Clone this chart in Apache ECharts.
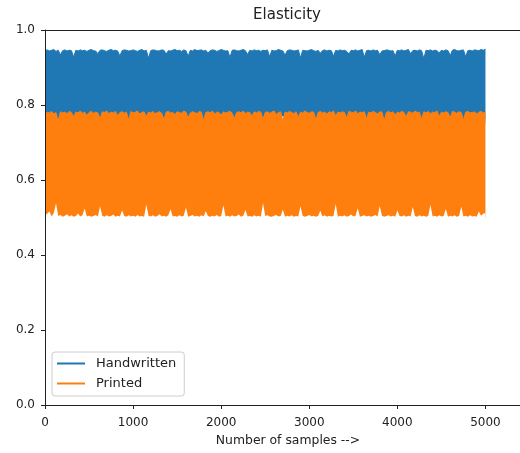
<!DOCTYPE html>
<html>
<head>
<meta charset="utf-8">
<script src="https://cdn.jsdelivr.net/npm/echarts@6/dist/echarts.min.js"></script>
<style>
  html, body { margin: 0; padding: 0; background: #fff; }
  #chart { width: 520px; height: 453px; }
</style>
</head>
<body>
<div id="chart"></div>
<script>
// envelopes of the two noisy series
// high/low edges every 25 samples (handLow every 100, it is mostly hidden)
var edgeStep = 25;
var handLowStep = 100;
var xTicks = [0, 1000, 2000, 3000, 4000, 5000];

var handHigh = [
  0.945,0.947,0.944,0.946,0.948,0.943,0.946,0.934,0.945,0.947,0.944,0.946,0.945,0.928,0.946,0.944,0.947,0.945,0.946,0.943,
  0.946,0.948,0.945,0.944,0.937,0.946,0.947,0.945,0.943,0.946,0.948,0.945,0.946,0.944,0.931,0.945,0.947,0.946,0.944,0.945,
  0.947,0.945,0.943,0.946,0.948,0.944,0.946,0.925,0.945,0.947,0.946,0.944,0.945,0.947,0.946,0.936,0.945,0.944,0.946,0.948,
  0.945,0.946,0.943,0.947,0.945,0.930,0.946,0.944,0.948,0.945,0.946,0.947,0.944,0.946,0.939,0.945,0.947,0.946,0.943,0.945,
  0.948,0.946,0.944,0.945,0.927,0.946,0.947,0.945,0.944,0.946,0.948,0.945,0.935,0.946,0.944,0.947,0.945,0.946,0.943,0.946,
  0.945,0.947,0.929,0.946,0.944,0.945,0.948,0.946,0.944,0.933,0.945,0.947,0.946,0.944,0.945,0.947,0.926,0.946,0.945,0.944,
  0.946,0.948,0.945,0.943,0.946,0.938,0.945,0.947,0.944,0.946,0.945,0.930,0.946,0.944,0.947,0.945,0.946,0.943,0.936,0.946,
  0.945,0.947,0.944,0.946,0.948,0.928,0.945,0.946,0.944,0.947,0.945,0.946,0.934,0.944,0.945,0.947,0.946,0.944,0.945,0.931,
  0.946,0.945,0.947,0.944,0.946,0.948,0.937,0.945,0.946,0.944,0.947,0.945,0.924,0.946,0.945,0.947,0.944,0.946,0.945,0.939,
  0.946,0.944,0.947,0.945,0.932,0.946,0.948,0.945,0.944,0.946,0.947,0.929,0.945,0.946,0.944,0.947,0.946,0.945,0.948,0.946,
  0.949
];
var handLow = [
  0.752,0.760,0.765,0.758,0.770,0.762,0.755,0.768,0.760,0.764,
  0.758,0.766,0.761,0.769,0.757,0.763,0.760,0.767,0.759,0.764,
  0.762,0.756,0.768,0.761,0.765,0.759,0.763,0.770,0.758,0.762,
  0.766,0.760,0.757,0.764,0.761,0.768,0.759,0.763,0.756,0.765,
  0.760,0.767,0.762,0.758,0.764,0.761,0.769,0.757,0.763,0.760,
  0.762
];
var printHigh = [
  0.774,0.781,0.779,0.783,0.776,0.780,0.756,0.782,0.779,0.781,0.777,0.783,0.780,0.768,0.781,0.779,0.784,0.778,0.781,0.772,
  0.780,0.783,0.778,0.781,0.779,0.763,0.782,0.780,0.784,0.777,0.781,0.779,0.783,0.771,0.780,0.782,0.778,0.781,0.759,0.783,
  0.779,0.781,0.784,0.776,0.780,0.782,0.769,0.781,0.779,0.783,0.777,0.780,0.782,0.778,0.761,0.781,0.783,0.779,0.780,0.775,
  0.782,0.780,0.778,0.784,0.781,0.766,0.779,0.782,0.780,0.777,0.783,0.781,0.758,0.780,0.782,0.779,0.784,0.776,0.781,0.780,
  0.773,0.782,0.779,0.781,0.783,0.778,0.764,0.780,0.782,0.779,0.784,0.777,0.781,0.780,0.770,0.782,0.779,0.783,0.781,0.762,
  0.780,0.782,0.778,0.781,0.784,0.775,0.780,0.782,0.757,0.781,0.779,0.783,0.780,0.777,0.782,0.767,0.781,0.779,0.784,0.780,
  0.778,0.782,0.781,0.760,0.780,0.783,0.779,0.781,0.776,0.782,0.780,0.784,0.771,0.781,0.779,0.782,0.780,0.765,0.783,0.781,
  0.779,0.784,0.777,0.781,0.780,0.782,0.763,0.781,0.779,0.783,0.780,0.776,0.782,0.781,0.758,0.780,0.783,0.779,0.782,0.774,
  0.781,0.779,0.783,0.780,0.768,0.782,0.781,0.778,0.784,0.780,0.781,0.762,0.782,0.779,0.783,0.777,0.781,0.780,0.784,0.770,
  0.781,0.779,0.782,0.780,0.766,0.783,0.781,0.778,0.782,0.780,0.760,0.781,0.783,0.779,0.780,0.782,0.776,0.781,0.783,0.779,
  0.781
];
var printLow = [
  0.506,0.510,0.516,0.503,0.512,0.538,0.504,0.507,0.502,0.505,0.509,0.503,0.506,0.502,0.504,0.511,0.503,0.506,0.524,0.503,
  0.505,0.502,0.504,0.507,0.503,0.530,0.505,0.502,0.506,0.503,0.504,0.508,0.502,0.505,0.503,0.519,0.504,0.502,0.506,0.503,
  0.505,0.502,0.507,0.503,0.504,0.502,0.535,0.505,0.503,0.506,0.502,0.504,0.509,0.503,0.505,0.502,0.506,0.522,0.503,0.504,
  0.502,0.506,0.503,0.505,0.527,0.502,0.504,0.507,0.503,0.505,0.502,0.506,0.503,0.517,0.504,0.502,0.505,0.503,0.507,0.502,
  0.504,0.533,0.503,0.505,0.502,0.506,0.503,0.504,0.508,0.502,0.505,0.520,0.503,0.504,0.502,0.506,0.503,0.505,0.502,0.539,
  0.504,0.506,0.503,0.502,0.505,0.507,0.503,0.504,0.521,0.502,0.505,0.503,0.506,0.502,0.504,0.503,0.530,0.505,0.502,0.504,
  0.507,0.503,0.505,0.502,0.504,0.518,0.503,0.506,0.502,0.505,0.503,0.504,0.536,0.502,0.505,0.503,0.506,0.502,0.504,0.508,
  0.503,0.505,0.525,0.502,0.504,0.506,0.503,0.505,0.502,0.504,0.507,0.503,0.531,0.505,0.502,0.504,0.506,0.503,0.505,0.502,
  0.519,0.504,0.503,0.506,0.502,0.505,0.503,0.528,0.504,0.502,0.506,0.503,0.505,0.502,0.504,0.534,0.503,0.505,0.502,0.506,
  0.503,0.504,0.523,0.502,0.505,0.503,0.506,0.502,0.504,0.529,0.503,0.505,0.502,0.506,0.503,0.504,0.502,0.516,0.505,0.510,
  0.512
];

var blue = '#1f77b4', orange = '#ff7f0e';
var font = 'DejaVu Sans';

function pts(vals, step) {
  return vals.map(function (v, i) { return [i * step, v]; });
}
// upper edge, filled down to `origin` in the series colour
function topSeries(name, color, high, origin) {
  return {
    name: name, type: 'line', symbol: 'none',
    itemStyle: { color: color },
    lineStyle: { color: color, width: 1 },
    areaStyle: { color: color, opacity: 1, origin: origin },
    data: pts(high, edgeStep)
  };
}
// lower edge, cleared back to white down to `origin`
function bottomSeries(name, low, step, origin) {
  return {
    name: name, type: 'line', symbol: 'none', silent: true,
    lineStyle: { width: 0, opacity: 0 },
    areaStyle: { color: '#fff', opacity: 1, origin: origin },
    data: pts(low, step)
  };
}

var axisColor = '#222';
var option = {
  animation: false,
  backgroundColor: '#fff',
  textStyle: { fontFamily: font },
  grid: { left: 45, right: -1, top: 30, bottom: 48 },
  graphic: [
    { type: 'text', x: 287, y: 8, z: 20,
      style: { text: 'Elasticity', font: '15px DejaVu Sans', fill: axisColor, textAlign: 'center' } },
    { type: 'text', x: 288, y: 435, z: 20,
      style: { text: 'Number of samples -->', font: '12.4px DejaVu Sans', fill: axisColor, textAlign: 'center' } }
  ],
  legend: {
    data: ['Handwritten', 'Printed'],
    orient: 'vertical',
    left: 52, top: 352,
    padding: [5, 8, 6, 5],
    itemGap: 7,
    itemWidth: 28, itemHeight: 2,
    icon: 'rect',
    borderColor: '#ccc', borderWidth: 1, borderRadius: 3,
    backgroundColor: 'rgba(255,255,255,0.8)',
    textStyle: { fontFamily: font, fontSize: 13, color: axisColor, padding: [0, 0, 0, 6] },
    selectedMode: false
  },
  xAxis: [{
    type: 'value', min: 0, max: 5392, interval: 1000, z: 10,
    axisLine: { show: true, onZero: false, lineStyle: { color: axisColor } },
    axisTick: { show: true, length: 4, lineStyle: { color: axisColor } },
    axisLabel: {
      color: axisColor, fontSize: 12, fontFamily: font, margin: 12, showMaxLabel: false,
      formatter: function (v) { return xTicks.indexOf(v) >= 0 ? String(v) : ''; }
    },
    splitLine: { show: false }
  }, {
    type: 'value', position: 'top', min: 0, max: 5392, z: 10,
    axisLine: { show: true, onZero: false, lineStyle: { color: axisColor } },
    axisTick: { show: false }, axisLabel: { show: false }, splitLine: { show: false }
  }],
  yAxis: {
    type: 'value', min: 0, max: 1, interval: 0.2, z: 10,
    axisLine: { show: true, onZero: false, lineStyle: { color: axisColor } },
    axisTick: { show: true, length: 4, lineStyle: { color: axisColor } },
    axisLabel: {
      color: axisColor, fontSize: 12, fontFamily: font, margin: 10,
      formatter: function (v) { return v.toFixed(1); }
    },
    splitLine: { show: false }
  },
  series: [
    topSeries('Handwritten', blue, handHigh, 0.75),
    bottomSeries('hand-low', handLow, handLowStep, 0.74),
    topSeries('Printed', orange, printHigh, 0.5),
    bottomSeries('print-low', printLow, edgeStep, 0.49)
  ]
};

var myChart = echarts.init(document.getElementById('chart'));
myChart.setOption(option);
</script>
</body>
</html>
